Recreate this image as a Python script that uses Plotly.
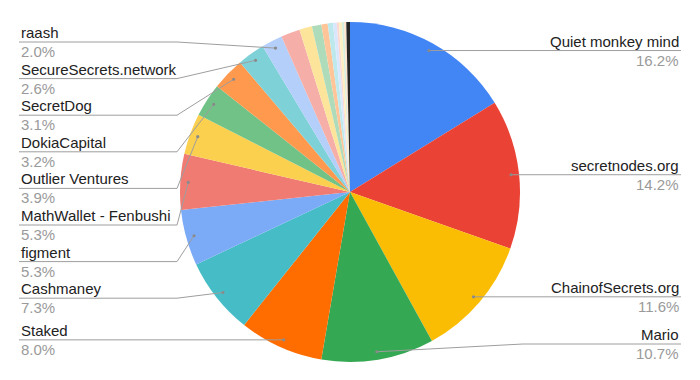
import math
import plotly.graph_objects as go

# ---------------- data ----------------
labels = [
    "Quiet monkey mind", "secretnodes.org", "ChainofSecrets.org", "Mario",
    "Staked", "Cashmaney", "figment", "MathWallet - Fenbushi",
    "Outlier Ventures", "DokiaCapital", "SecretDog", "SecureSecrets.network",
    "raash", "Other 14", "Other 15", "Other 16", "Other 17", "Other 18",
    "Other 19", "Other 20", "Other 21", "Other 22", "Other 23", "Other 24",
]
values = [
    16.2, 14.2, 11.6, 10.7,
    8.0, 7.3, 5.3, 5.3,
    3.9, 3.2, 3.1, 2.6,
    2.0, 1.8, 1.2, 0.9, 0.6, 0.5,
    0.35, 0.2, 0.3, 0.2, 0.2, 0.35,
]
colors = [
    "#4285F4", "#EA4335", "#FBBC04", "#34A853", "#FF6D01", "#46BDC6",
    "#7BAAF7", "#F07B72", "#FCD04F", "#71C287", "#FF994D", "#7ED1D7",
    "#B3CFFA", "#F6AEA9", "#FDE49B", "#AEDCBA", "#FFC599", "#BEE9EC",
    "#D9E7FD", "#FBD7D4", "#FEEFC3", "#D6EEDD", "#FFE2CC", "#262626",
]
n_labeled = 13  # slices that carry an outside label

# ---------------- layout constants ----------------
W, H = 700, 380
CX, CY, R = 350, 192, 170
DOT_R = 162
LEFT_X, RIGHT_X, TEXT_W = 19, 681, 158
GAP, TOP, BOTTOM = 36.6, 42, 344
FONT = "Arial, 'Liberation Sans', sans-serif"
FONT_SIZE = 15
NAME_COLOR = "#222222"
PCT_COLOR = "#9a9a9a"
LINE_COLOR = "#9e9e9e"


def px(x):
    return x / W


def py(y):
    return 1 - y / H


total = sum(values)

fig = go.Figure(go.Pie(
    labels=labels,
    values=values,
    sort=False,
    direction="clockwise",
    rotation=0,
    marker=dict(colors=colors, line=dict(width=0)),
    textinfo="none",
    hoverinfo="label+percent",
    showlegend=False,
    domain=dict(x=[px(CX - R), px(CX + R)], y=[py(CY + R), py(CY - R)]),
))

# label anchor dots from slice mid-angles
items = []
cum = 0.0
for i, v in enumerate(values):
    mid = (cum + v / 2) / total * 2 * math.pi
    cum += v
    if i >= n_labeled:
        continue
    dx = CX + DOT_R * math.sin(mid)
    dy = CY - DOT_R * math.cos(mid)
    side = "right" if mid < math.pi else "left"
    items.append(dict(i=i, x=dx, y=dy, side=side))


def place(group):
    group.sort(key=lambda d: d["y"])
    ys = [d["y"] for d in group]
    for k in range(len(ys) - 1, -1, -1):
        lim = BOTTOM if k == len(ys) - 1 else ys[k + 1] - GAP
        ys[k] = min(ys[k], lim)
    for k in range(len(ys)):
        lim = TOP if k == 0 else ys[k - 1] + GAP
        ys[k] = max(ys[k], lim)
    for d, y in zip(group, ys):
        d["ly"] = y


place([d for d in items if d["side"] == "left"])
place([d for d in items if d["side"] == "right"])

shapes = []
annotations = []
for d in items:
    i = d["i"]
    ly = d["ly"]
    if d["side"] == "left":
        x_text, x_elbow, anchor = LEFT_X, LEFT_X + TEXT_W, "left"
    else:
        x_text, x_elbow, anchor = RIGHT_X, RIGHT_X - TEXT_W, "right"
    shapes.append(dict(type="line", xref="paper", yref="paper",
                       x0=px(x_text), y0=py(ly), x1=px(x_elbow), y1=py(ly),
                       line=dict(color=LINE_COLOR, width=1), layer="above"))
    shapes.append(dict(type="line", xref="paper", yref="paper",
                       x0=px(x_elbow), y0=py(ly), x1=px(d["x"]), y1=py(d["y"]),
                       line=dict(color=LINE_COLOR, width=1), layer="above"))
    shapes.append(dict(type="circle", xref="paper", yref="paper",
                       x0=px(d["x"] - 1.6), x1=px(d["x"] + 1.6),
                       y0=py(d["y"] + 1.6), y1=py(d["y"] - 1.6),
                       fillcolor="#8a8a8a", line=dict(width=0), layer="above"))
    annotations.append(dict(x=px(x_text), y=py(ly), xref="paper", yref="paper",
                            text=labels[i], showarrow=False, xanchor=anchor,
                            yanchor="bottom", yshift=-1,
                            font=dict(family=FONT, size=FONT_SIZE, color=NAME_COLOR)))
    annotations.append(dict(x=px(x_text), y=py(ly), xref="paper", yref="paper",
                            text=f"{values[i] / total * 100:.1f}%", showarrow=False,
                            xanchor=anchor, yanchor="top", yshift=1,
                            font=dict(family=FONT, size=FONT_SIZE, color=PCT_COLOR)))

fig.update_layout(
    width=W, height=H,
    margin=dict(l=0, r=0, t=0, b=0),
    paper_bgcolor="white",
    plot_bgcolor="white",
    shapes=shapes,
    annotations=annotations,
    showlegend=False,
)

fig.write_html("out.html")
